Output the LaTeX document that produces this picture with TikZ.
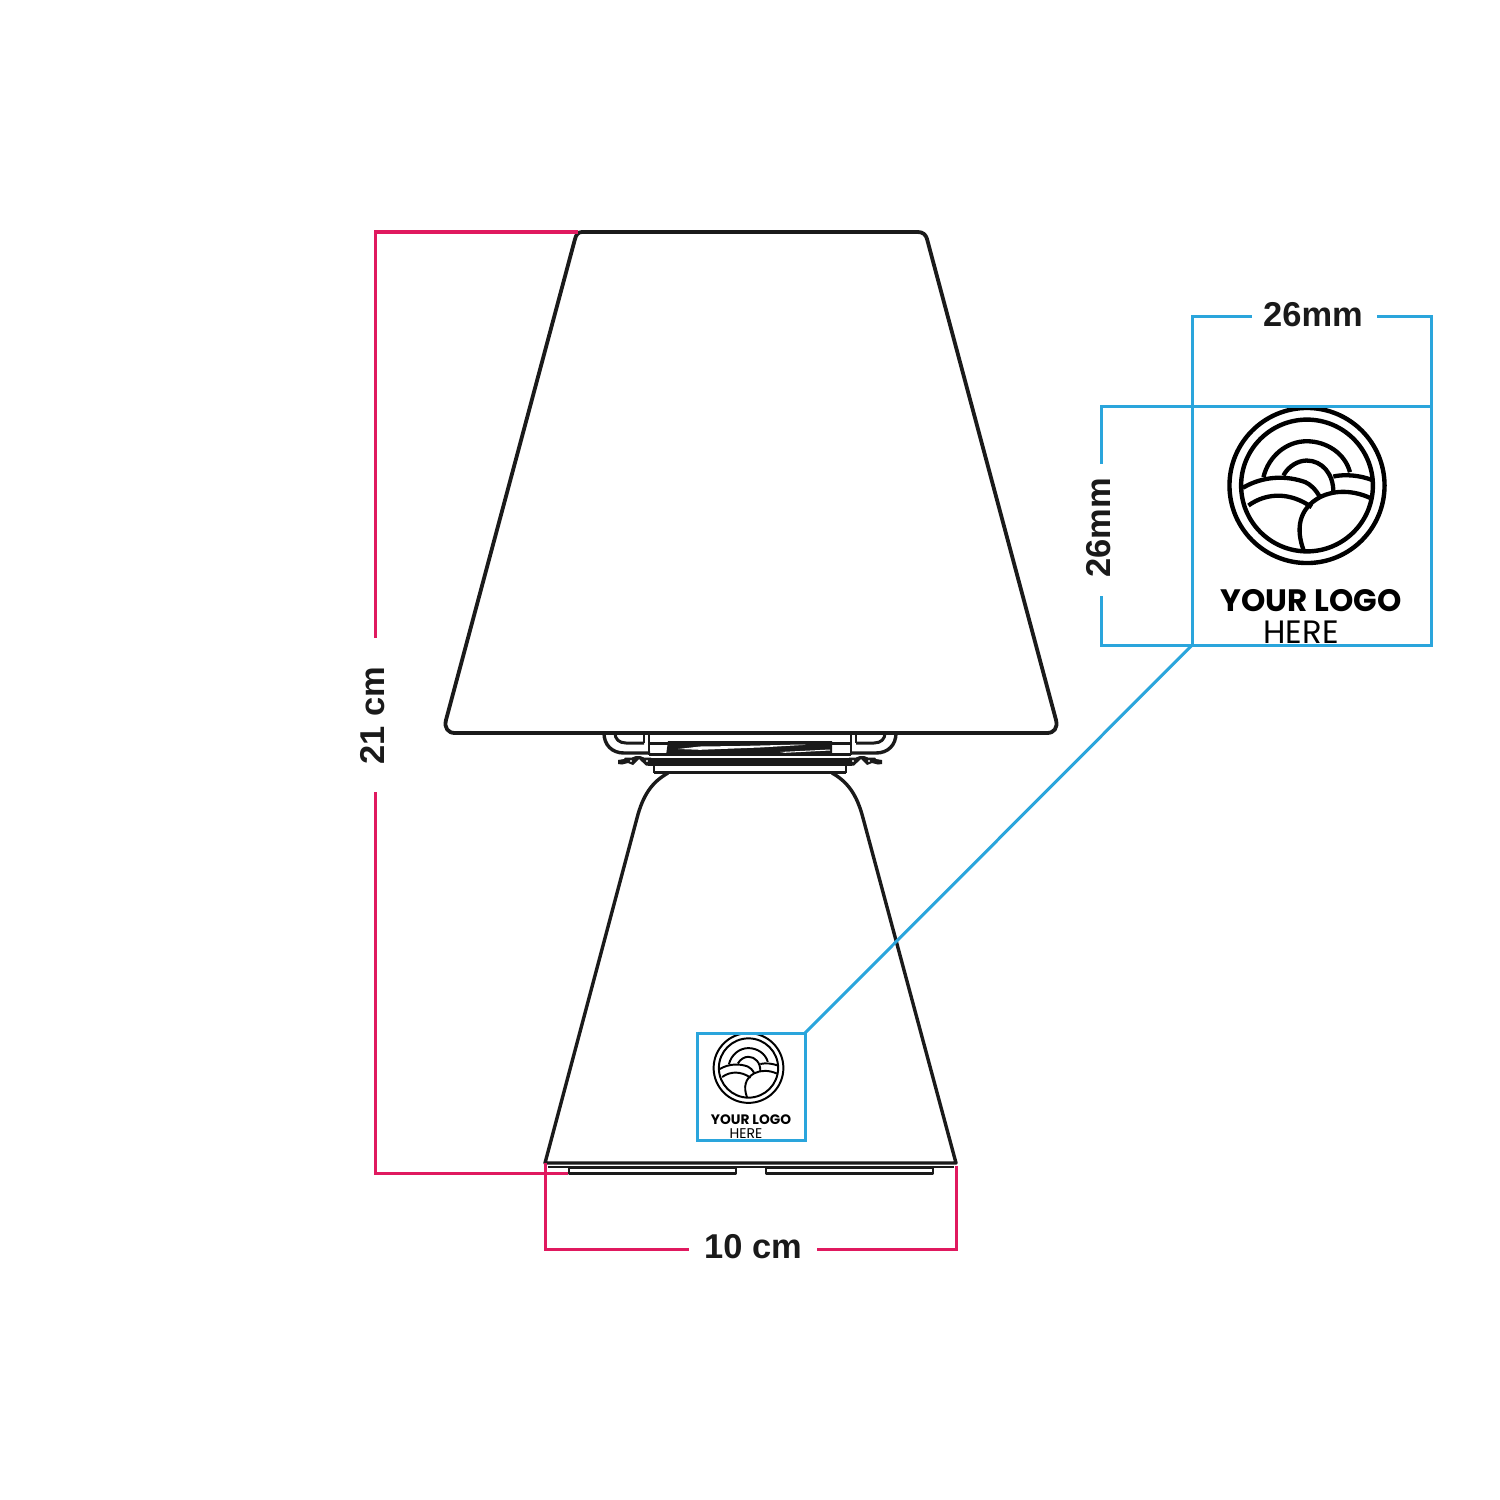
\documentclass[tikz,border=0pt]{standalone}
\usepackage{fontspec}
\setmainfont{Liberation Sans}
\newfontfamily\logofont{Poppins}
\definecolor{dimred}{HTML}{E0195F}
\definecolor{dimblue}{HTML}{2AA5DC}
\definecolor{ink}{HTML}{1A1A1A}
\tikzset{
  px/.style={line width=#1*0.2845pt},
  outline/.style={draw=ink,px=3.8,line join=round},
  thin part/.style={draw=ink,px=2.2,line join=round},
  reddim/.style={draw=dimred,px=3.0,line join=miter},
  bluedim/.style={draw=dimblue,px=3.0,line join=miter},
  dimtext/.style={font=\fontsize{9.8pt}{10pt}\selectfont\bfseries,text=ink,inner sep=0pt},
  bluebox/.style={draw=dimblue,px=3.0,rectangle,inner sep=0pt,outer sep=0pt,anchor=north west},
}
% #1 centre x, #2 centre y, #3 scale
\newcommand{\lampmark}[3]{%
  \begin{scope}[shift={(#1,#2)},x=#3*0.00333cm,y=-#3*0.00333cm]
    \draw[draw=black,line width=#3*4.4*0.2845pt] (0,0) circle [radius=233];
    \draw[draw=black,line width=#3*4.4*0.2845pt] (0,0) circle [radius=198];
    \draw[draw=black,line width=#3*4.3*0.2845pt]
      (-131,-25) .. controls (-115,-90) and (-60,-133) .. (-1,-133) .. controls (60,-133) and (115,-95) .. (129,-40);
    \draw[draw=black,line width=#3*4.3*0.2845pt]
      (-71,-30) .. controls (-55,-60) and (-25,-75) .. (-1,-75) .. controls (45,-75) and (80,-35) .. (79,20);
    \draw[draw=black,line width=#3*4.3*0.2845pt]
      (-193,7) .. controls (-130,-30) and (-60,-30) .. (-5,-10) .. controls (10,-3) and (25,10) .. (39,35);
    \draw[draw=black,line width=#3*4.3*0.2845pt]
      (-176,60) .. controls (-120,20) and (-50,20) .. (14,65);
    \draw[draw=black,line width=#3*4.3*0.2845pt]
      (79,-27) .. controls (115,-35) and (160,-30) .. (194,-17);
    \draw[draw=black,line width=#3*4.3*0.2845pt]
      (-9,198) .. controls (-35,130) and (-25,70) .. (39,35) .. controls (85,12) and (140,15) .. (189,37);
  \end{scope}}
\begin{document}
\begin{tikzpicture}[x=0.01cm,y=-0.01cm]
\useasboundingbox (0,0) rectangle (1500,1500);
\fill[white] (0,0) rectangle (1500,1500);

% shade
\draw[outline] (582,232) -- (918,232) .. controls (923,232) and (926,235) .. (927,239)
  -- (1056,720) .. controls (1058,728) and (1054,733) .. (1047,733)
  -- (455,733) .. controls (448,733) and (444,728) .. (446,720)
  -- (575,239) .. controls (576,235) and (578,232) .. (582,232) -- cycle;

% body
\draw[outline,px=3.4] (668,773) .. controls (652,782) and (643,795) .. (637,818)
  -- (545,1163) -- (956,1163) -- (863,818) .. controls (857,795) and (848,782) .. (832,773);

% base plate and feet
\draw[thin part,px=1.9] (548,1166.8) -- (954,1166.8);
\draw[thin part,px=2.2] (569,1168) rectangle (736,1173.5);
\draw[thin part,px=2.2] (766,1168) rectangle (933,1173.5);

% fitting between shade and body
\foreach \sx/\tx in {1/0,-1/1500}{
  \begin{scope}[xshift=\tx*0.01cm,xscale=\sx]
    \draw[thin part,px=3.4] (604,733) .. controls (604,745) and (612,753) .. (624,753) -- (650,753);
    \draw[thin part,px=3] (615,733) .. controls (615,739) and (619,743) .. (626,743) -- (644,743);
    \draw[thin part,px=2.6] (644,733) -- (644,743);
    \draw[thin part,px=2.6] (649,733) -- (649,755);
    \draw[thin part,px=2.6] (649,743.5) -- (668,743.5);
    \fill[ink] (618,760) -- (624,759) -- (625,757.5) -- (632,757.5) -- (636,756) -- (640,756) -- (644,757.5)
       -- (651,757.5) -- (651,765.5) -- (646,765.5) -- (639,759) -- (633,765) -- (628,763) -- (622,764.5) -- (618,764) -- cycle;
    \fill[white] (631,761) circle [radius=1.1];
    \fill[white] (647,761) circle [radius=1.1];
    \draw[thin part,px=2.6] (654,765) -- (654,773);
  \end{scope}
}
\fill[ink] (668,741) -- (832,741) -- (832,755.5) -- (666,755.5) -- cycle;
\fill[white] (678,749) -- (700,746.5) -- (740,746) -- (800,744.5) -- (806,744.8) -- (760,747.5) -- (700,749.8) -- cycle;
\fill[white] (780,752) -- (830,749.5) -- (830,750.5) -- (785,752.8) -- cycle;
\draw[thin part,px=2.6] (649,754.2) -- (851,754.2);
\fill[ink] (648,758) rectangle (852,766);
\draw[thin part,px=3] (654,772) -- (846,772);
\draw[outline] (640,733) -- (860,733);

% dimension lines, red
\coordinate (rA) at (578,232); \coordinate (rB) at (375,232); \coordinate (rC) at (375,638);
\coordinate (rD) at (375,792); \coordinate (rE) at (375,1173); \coordinate (rF) at (568,1173);
\coordinate (rG) at (545,1163); \coordinate (rH) at (545,1249); \coordinate (rI) at (689,1249);
\coordinate (rJ) at (817,1249); \coordinate (rK) at (956,1249); \coordinate (rL) at (956,1166);
\draw[reddim] (rA) -- (rB) -- (rC);
\draw[reddim] (rD) -- (rE) -- (rF);
\draw[reddim] (rG) -- (rH) -- (rI);
\draw[reddim] (rJ) -- (rK) -- (rL);
\node[dimtext,rotate=90] (heightlabel) at (373,716) {21 cm};
\node[dimtext] (widthlabel) at (753,1247) {10 cm};

% logos
\lampmark{1307}{485.5}{1}
\lampmark{748.5}{1068}{0.45}
\node[font=\logofont\bfseries\fontsize{8.8pt}{10pt}\selectfont,text=black,inner sep=0pt] (bigyour) at (1311,601) {YOUR LOGO};
\node[font=\logofont\fontsize{9.2pt}{10pt}\selectfont,text=black,inner sep=0pt] (bighere) at (1301,632.5) {HERE};
\node[font=\logofont\bfseries\fontsize{3.9pt}{5pt}\selectfont,text=black,inner sep=0pt] (smallyour) at (751,1120) {YOUR LOGO};
\node[font=\logofont\fontsize{4pt}{5pt}\selectfont,text=black,inner sep=0pt] (smallhere) at (746,1133.5) {HERE};

% blue boxes and dimension lines
\node[bluebox,minimum width=2.39cm,minimum height=2.39cm] (bigbox) at (1192,406) {};
\node[bluebox,minimum width=1.08cm,minimum height=1.07cm] (smallbox) at (697,1033) {};
\draw[bluedim] (smallbox.north east) -- (bigbox.south west);
\coordinate (bTop) at (0,316); \coordinate (bLeft) at (1101,0);
\coordinate (bA) at (bigbox.north west |- bTop); \coordinate (bB) at (1252,316); \coordinate (bC) at (1377,316);
\coordinate (bD) at (bigbox.north east |- bTop); \coordinate (bE) at (bLeft |- bigbox.north west); \coordinate (bF) at (1101,464);
\coordinate (bG) at (1101,596); \coordinate (bH) at (bLeft |- bigbox.south west);
\draw[bluedim] (bigbox.north west) -- (bA) -- (bB);
\draw[bluedim] (bC) -- (bD) -- (bigbox.north east);
\draw[bluedim] (bigbox.north west) -- (bE) -- (bF);
\draw[bluedim] (bG) -- (bH) -- (bigbox.south west);
\node[dimtext] (toplabel) at (1313,315) {26mm};
\node[dimtext,rotate=90] (sidelabel) at (1099,528) {26mm};
\end{tikzpicture}
\end{document}
